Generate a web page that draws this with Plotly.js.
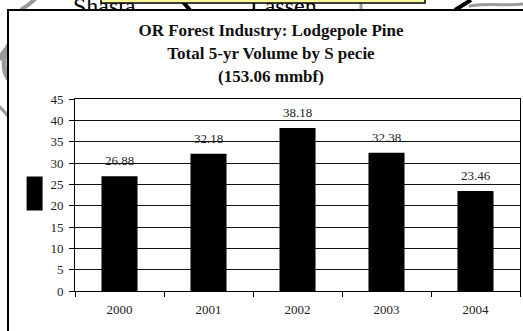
<!DOCTYPE html>
<html>
<head>
<meta charset="utf-8">
<script src="https://cdn.plot.ly/plotly-3.0.1.min.js"></script>
<style>
html,body{margin:0;padding:0;background:#fff;overflow:hidden;width:523px;height:331px}
#decor,#frame,#chart{position:absolute;left:0;top:0}
#frame{left:7px;top:9px;width:516px;height:322px;box-sizing:border-box;background:#fff;border-left:2px solid #000;border-top:2px solid #000}
</style>
</head>
<body>
<svg id="decor" width="523" height="331" xmlns="http://www.w3.org/2000/svg">
  <g fill="none" stroke="#9a9a9a" stroke-linecap="round">
    <path d="M35 -1 C31 3 27 6 22 9" stroke-width="4"/>
    <path d="M0 58 C5 50 8 48 8 46 M5 54 C3 66 5 74 8 78" stroke-width="5"/>
    <path d="M0 107 L8 116" stroke-width="3"/>
    <path d="M470 6 C490 3 505 6 523 4" stroke-width="3"/>
    <path d="M361 4 L361 10" stroke-width="3"/>
  </g>
  <path d="M182 1 L190 10 M455 10 L471 0" stroke="#000" stroke-width="4" fill="none"/>
  <text x="73" y="14" font-family="Liberation Serif" font-size="24" fill="#000">Shasta</text>
  <text x="250" y="14" font-family="Liberation Serif" font-size="24" fill="#000">Lassen</text>
  <rect x="101" y="-3" width="324" height="6" fill="#ffff99" stroke="#000" stroke-width="1.5"/>
</svg>
<div id="frame"></div>
<div id="chart"></div>
<script>
const years = ["2000", "2001", "2002", "2003", "2004"];
const volumes = [26.88, 32.18, 38.18, 32.38, 23.46];
const volumeLabels = ["26.88", "32.18", "38.18", "32.38", "23.46"];
const yTicks = [0, 5, 10, 15, 20, 25, 30, 35, 40, 45];
const titleLines = ["OR Forest Industry: Lodgepole Pine", "Total 5-yr Volume by S pecie", "(153.06 mmbf)"];

const W = 523, H = 331;
const serif = "Liberation Serif, Times New Roman, serif";

const data = [{
  type: "bar",
  x: years,
  y: volumes,
  marker: { color: "#000000", line: { width: 0 } },
  hoverinfo: "x+y",
  showlegend: false
}];

const layout = {
  width: W,
  height: H,
  autosize: false,
  paper_bgcolor: "rgba(0,0,0,0)",
  plot_bgcolor: "#ffffff",
  margin: { l: 74.5, r: 2.5, t: 98.5, b: 40, pad: 0, autoexpand: false },
  bargap: 0.595,
  showlegend: false,
  title: {
    text: titleLines.map(s => '<span style="font-size:17px">' + s + "</span>").join("<br>"),
    font: { family: serif, size: 17.7, color: "#111111", weight: "bold" },
    x: 271 / W,
    xanchor: "center",
    xref: "container",
    y: 1 - 36 / H,
    yanchor: "top",
    yref: "container"
  },
  xaxis: {
    type: "category",
    tickson: "boundaries",
    ticks: "outside",
    ticklen: 5,
    tickwidth: 1,
    tickcolor: "#000",
    showline: true,
    linecolor: "#000",
    linewidth: 1,
    mirror: true,
    showgrid: false,
    zeroline: false,
    tickfont: { family: serif, size: 13, color: "#222" },
    ticklabelstandoff: 6,
    range: [-0.5, 4.5],
    fixedrange: true
  },
  yaxis: {
    range: [0, 45],
    tickmode: "array",
    tickvals: yTicks,
    ticktext: yTicks.map(String),
    ticks: "outside",
    ticklen: 5,
    tickwidth: 1,
    tickcolor: "#000",
    showline: true,
    linecolor: "#000",
    linewidth: 1,
    mirror: true,
    showgrid: true,
    gridcolor: "#111",
    gridwidth: 1,
    zeroline: false,
    tickfont: { family: serif, size: 13, color: "#222" },
    ticklabelstandoff: 3,
    fixedrange: true
  },
  annotations: years.map((yr, i) => ({
    x: i,
    y: volumes[i],
    xref: "x",
    yref: "y",
    text: volumeLabels[i],
    showarrow: false,
    xanchor: "center",
    yanchor: "bottom",
    yshift: 6,
    font: { family: serif, size: 13, color: "#222" }
  })),
  shapes: [{
    type: "rect",
    xref: "paper",
    yref: "paper",
    x0: (26 - 74.5) / 446,
    x1: (42 - 74.5) / 446,
    y0: (291.5 - 211) / 192,
    y1: (291.5 - 177) / 192,
    fillcolor: "#000",
    line: { width: 0 },
    layer: "above"
  }]
};

Plotly.newPlot("chart", data, layout, { displayModeBar: false, staticPlot: true });
</script>
</body>
</html>
